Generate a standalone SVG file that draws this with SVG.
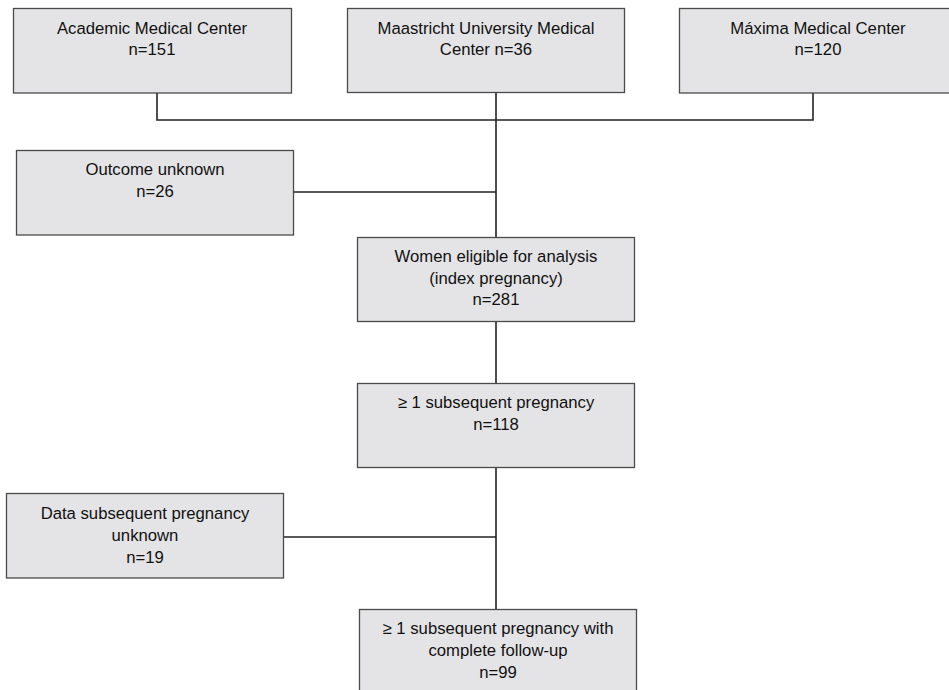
<svg xmlns="http://www.w3.org/2000/svg" width="949" height="690" viewBox="0 0 949 690">
<style>
.box{fill:#e4e4e6;stroke:#4a4a4a;stroke-width:1.3}
.t{font-family:"Liberation Sans",Arial,sans-serif;font-size:16.7px;fill:#111;text-anchor:middle}
.c{fill:none;stroke:#222;stroke-width:1.6}
</style>
<rect width="949" height="690" fill="#fff"/>
<g id="connectors">
<polyline class="c" points="157,93 157,120 813,120 813,93"/>
<line class="c" x1="496" y1="92" x2="496" y2="237"/>
<line class="c" x1="293" y1="192" x2="496" y2="192"/>
<line class="c" x1="496" y1="321" x2="496" y2="383"/>
<line class="c" x1="496" y1="467" x2="496" y2="609"/>
<line class="c" x1="283" y1="537" x2="496" y2="537"/>
</g>
<g id="academic">
<rect class="box" x="13.5" y="8.5" width="278" height="84.5"/>
<text class="t" x="152" y="34">Academic Medical Center</text>
<text class="t" x="152" y="55">n=151</text>
</g>
<g id="maastricht">
<rect class="box" x="347.5" y="8.5" width="277" height="84"/>
<text class="t" x="486" y="34">Maastricht University Medical</text>
<text class="t" x="486" y="55">Center n=36</text>
</g>
<g id="maxima">
<rect class="box" x="679.5" y="8.5" width="278" height="84.5"/>
<text class="t" x="818" y="34">Máxima Medical Center</text>
<text class="t" x="818" y="55">n=120</text>
</g>
<g id="outcome-unknown">
<rect class="box" x="16.5" y="150.5" width="277" height="84.5"/>
<text class="t" x="155" y="175">Outcome unknown</text>
<text class="t" x="155" y="197">n=26</text>
</g>
<g id="eligible">
<rect class="box" x="357.5" y="237.5" width="277" height="84"/>
<text class="t" x="496" y="262">Women eligible for analysis</text>
<text class="t" x="496" y="284">(index pregnancy)</text>
<text class="t" x="496" y="305">n=281</text>
</g>
<g id="subsequent">
<rect class="box" x="357.5" y="383.5" width="277" height="84"/>
<text class="t" x="496" y="408">≥ 1 subsequent pregnancy</text>
<text class="t" x="496" y="430">n=118</text>
</g>
<g id="data-unknown">
<rect class="box" x="6.5" y="493.5" width="277" height="84.5"/>
<text class="t" x="145" y="519">Data subsequent pregnancy</text>
<text class="t" x="145" y="541">unknown</text>
<text class="t" x="145" y="563">n=19</text>
</g>
<g id="complete">
<rect class="box" x="359.5" y="609.5" width="277" height="90"/>
<text class="t" x="498" y="634">≥ 1 subsequent pregnancy with</text>
<text class="t" x="498" y="656">complete follow-up</text>
<text class="t" x="498" y="678">n=99</text>
</g>
</svg>
